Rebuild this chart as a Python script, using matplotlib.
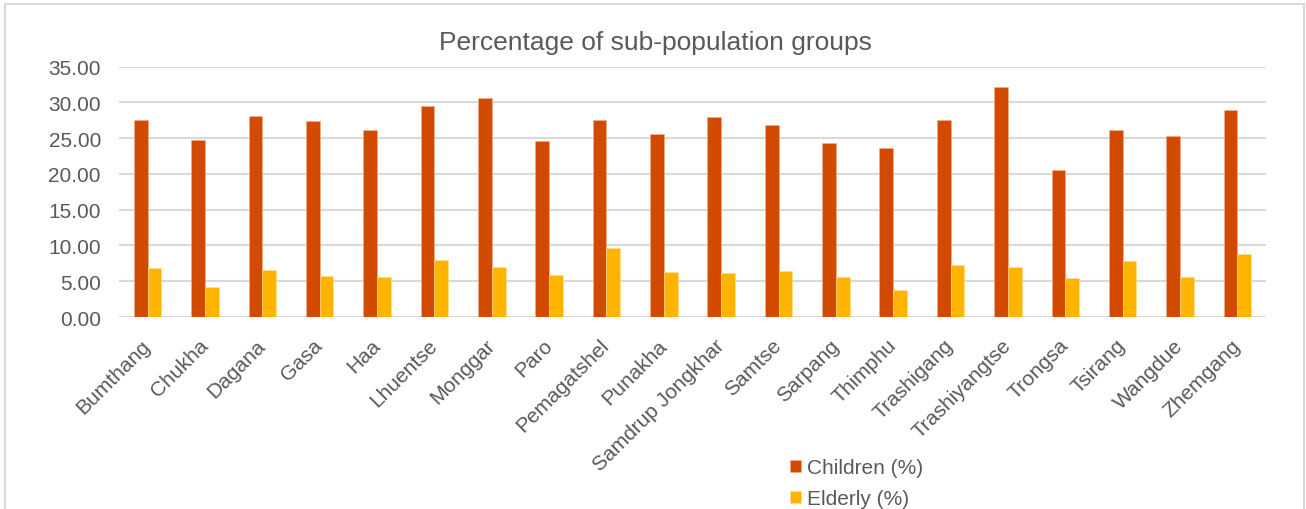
import matplotlib.pyplot as plt
import matplotlib.patches as mpatches
import numpy as np

plt.rcParams['font.family'] = ['Liberation Sans', 'DejaVu Sans']

# =========================
# DATA
# =========================
districts = [
    "Bumthang", "Chukha", "Dagana", "Gasa", "Haa", "Lhuentse", "Monggar",
    "Paro", "Pemagatshel", "Punakha", "Samdrup Jongkhar", "Samtse",
    "Sarpang", "Thimphu", "Trashigang", "Trashiyangtse", "Trongsa",
    "Tsirang", "Wangdue", "Zhemgang"
]
children = [27.6, 24.7, 28.1, 27.4, 26.2, 29.5, 30.6, 24.6, 27.5, 25.6,
            27.9, 26.9, 24.3, 23.6, 27.6, 32.2, 20.6, 26.2, 25.3, 28.9]
elderly = [6.9, 4.2, 6.6, 5.8, 5.6, 8.0, 7.0, 5.9, 9.7, 6.3,
           6.1, 6.4, 5.6, 3.8, 7.3, 7.0, 5.4, 7.9, 5.6, 8.8]
yticks = [0, 5, 10, 15, 20, 25, 30, 35]

TEXT = "#595959"
GRID = "#d9d9d9"

# =========================
# PLOT
# =========================
fig = plt.figure(figsize=(13.06, 5.10), dpi=100)
ax = fig.add_axes([119 / 1306, 1 - 318 / 510, (1266 - 119) / 1306, (318 - 67.7) / 510])

x = np.arange(len(districts))
w = 0.24
ax.bar(x - w / 2, children, w, color="#d24a00", edgecolor="#f0b090", linewidth=0.4,
       label="Children (%)", zorder=3)
ax.bar(x + w / 2, elderly, w, color="#ffb400", edgecolor="#ffe090", linewidth=0.4,
       label="Elderly (%)", zorder=3)

ax.set_xlim(-0.5, len(districts) - 0.5)
ax.set_ylim(0, 35)
ax.set_yticks(yticks)
ax.set_yticklabels([f"{v:.2f}" for v in yticks], fontsize=15, color=TEXT)
ax.set_xticks(x)
ax.set_xticklabels(districts, rotation=45, ha="right", va="center",
                   rotation_mode="anchor", fontsize=15, color=TEXT)
ax.tick_params(axis="both", length=0)
ax.tick_params(axis="y", pad=13)
ax.tick_params(axis="x", pad=18)
ax.grid(axis="y", color=GRID, linewidth=1.5, zorder=0)
for s in ax.spines.values():
    s.set_visible(False)

fig.text(655 / 1306, 1 - 43 / 510, "Percentage of sub-population groups",
         ha="center", va="center", fontsize=19, color=TEXT)

leg = fig.legend(loc="upper left", bbox_to_anchor=(790 / 1306, 1 - 459 / 510),
                 frameon=False, fontsize=15, handlelength=0.52, handleheight=0.52,
                 handletextpad=0.3, labelspacing=0.6, borderaxespad=0, borderpad=0)
for t in leg.get_texts():
    t.set_color(TEXT)

# chart area border
fig.patches.append(mpatches.Rectangle((5 / 1306, -0.05), 1299 / 1306, 1.05 - 5 / 510,
                                      transform=fig.transFigure, fill=False,
                                      edgecolor=GRID, linewidth=1.5))

fig.savefig("out.png", dpi=100)
